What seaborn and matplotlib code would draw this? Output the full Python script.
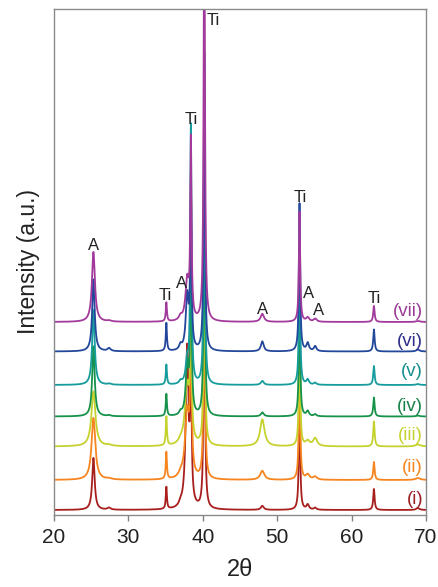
import numpy as np
import pandas as pd
import matplotlib
matplotlib.use("Agg")
import matplotlib.pyplot as plt
import seaborn as sns

# posicoes dos picos (2theta) e larguras (FWHM, graus)
peak_pos = [25.3, 27.4, 35.1, 37.0, 37.9, 38.4, 40.2, 48.0, 53.0, 54.1, 55.1, 63.0, 68.9]
peak_fwhm = [0.40, 0.50, 0.18, 0.40, 0.45, 0.20, 0.20, 0.45, 0.20, 0.40, 0.40, 0.22, 0.50]

# alturas dos picos acima da linha base (unidades arbitrarias)
h_i = [52, 2, 22, 3, 160, 150, 280, 4, 120, 5, 2, 21, 2]
h_ii = [62, 1, 27, 3, 67, 180, 260, 9, 130, 5, 3, 18, 2]
h_iii = [55, 1, 29, 3, 60, 150, 250, 27, 125, 5, 8, 25, 2]
h_iv = [70, 1, 22, 3, 50, 200, 270, 4, 130, 5, 2, 19, 1]
h_v = [75, 1, 20, 3, 23, 257, 280, 4, 135, 5, 2, 19, 1]
h_vi = [72, 3, 28, 5, 54, 170, 300, 10, 148, 8, 5, 22, 2]
h_vii = [70, 1, 19, 4, 40, 177, 450, 8, 110, 4, 3, 16, 1]

# fator de largura dos picos de anatase por amostra
fwhm_scale = [1.0, 1.5, 1.6, 1.0, 1.0, 1.0, 1.2]

samples = ["(i)", "(ii)", "(iii)", "(iv)", "(v)", "(vi)", "(vii)"]
heights = [h_i, h_ii, h_iii, h_iv, h_v, h_vi, h_vii]
offsets = [4.5, 34.5, 68, 98, 129.5, 163, 192.5]
colors = ["#a8201e", "#f7851f", "#c5d22e", "#17924a", "#169c9c", "#23479a", "#a23a9c"]
label_colors = ["#9a1e24", "#f7851f", "#c5d22e", "#17824a", "#16908f", "#2e2e8a", "#9b3a96"]

anatase = [0, 1, 3, 4, 7, 9, 10, 12]

two_theta = np.linspace(20, 70, 3001)

rows = []
for s, h, off, k in zip(samples, heights, offsets, fwhm_scale):
    y = np.full_like(two_theta, off)
    for j, (p, w, a) in enumerate(zip(peak_pos, peak_fwhm, h)):
        ww = w * k if j in anatase else w
        y += a / (1 + ((two_theta - p) / (ww / 2)) ** 2)
    rows.append(pd.DataFrame({"two_theta": two_theta, "intensity": y, "amostra": s}))
df = pd.concat(rows, ignore_index=True)

sns.set_style("white")
plt.rcParams["font.family"] = ["Liberation Sans", "DejaVu Sans"]

fig = plt.figure(figsize=(4.38, 5.87), dpi=100)
ax = fig.add_axes([54 / 438, 1 - 514.5 / 587, 372 / 438, 505.5 / 587])

for s, c in zip(samples, colors):
    sns.lineplot(data=df[df["amostra"] == s], x="two_theta", y="intensity",
                 color=c, lw=1.3, ax=ax, legend=False)

ax.set_xlim(20, 70)
ax.set_ylim(0, 505.5)
ax.set_yticks([])
ax.set_xticks([20, 30, 40, 50, 60, 70])
ax.tick_params(axis="x", direction="out", length=4, width=1, color="#808080",
               labelsize=15, pad=6, bottom=True, labelcolor="#222222")
for sp in ax.spines.values():
    sp.set_color("#8a8a8a")
    sp.set_linewidth(1)

ax.set_xlabel("2θ", fontsize=17, labelpad=8, color="#222222")
ax.set_ylabel("Intensity (a.u.)", fontsize=16.5, labelpad=10, color="#222222")

# rotulos dos picos
picos = [(25.3, 269.5, "A"), (35.0, 219.5, "Ti"), (37.2, 230.5, "A"), (38.4, 394.5, "Ti"),
         (41.4, 494, "Ti"), (48.05, 204.5, "A"), (53.1, 317.5, "Ti"), (54.2, 220.5, "A"),
         (55.5, 203.8, "A"), (63.05, 216, "Ti")]
for x, y, t in picos:
    ax.text(x, y, t, fontsize=12, ha="center", va="center", color="#222222")

label_y = [14.5, 46.5, 79.5, 107.8, 142.8, 172.8, 202.8]
for s, y, c in zip(samples, label_y, label_colors):
    ax.text(69.6, y, s, fontsize=13.5, ha="right", va="center", color=c)

fig.savefig("out.png", dpi=100)
